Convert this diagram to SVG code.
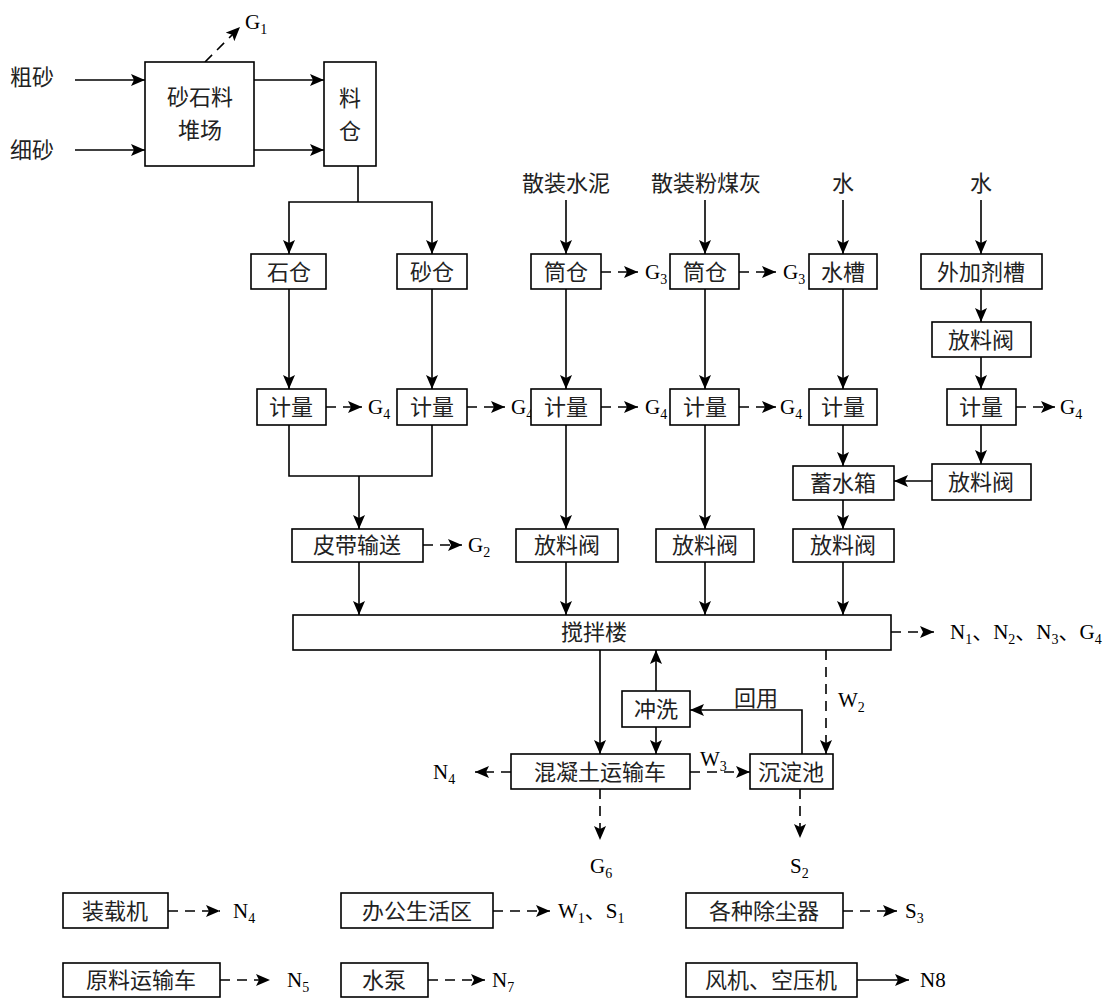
<svg xmlns="http://www.w3.org/2000/svg" width="1117" height="998" viewBox="0 0 1117 998">
<style>
.bx{fill:#fff;stroke:#000;stroke-width:1.6}
.ln{fill:none;stroke:#000;stroke-width:1.6}
.ar{marker-end:url(#ah)}
.ds{stroke-dasharray:10,7}
.cn{font-family:"Noto Sans CJK SC",sans-serif;font-size:22px;fill:#222;text-anchor:middle}
.cl{font-family:"Noto Sans CJK SC",sans-serif;font-size:22px;fill:#222}
.lt{font-family:"Liberation Serif","Noto Sans CJK SC",serif;font-size:21px;fill:#000}
.sb{font-size:14px}
</style>
<defs>
<marker id="ah" viewBox="0 0 14 12" refX="14" refY="6" markerWidth="14" markerHeight="12" orient="auto" markerUnits="userSpaceOnUse"><path d="M0,0 L14,6 L0,12 L3,6 z" fill="#000"/></marker>
</defs>
<rect width="1117" height="998" fill="#fff"/>

<g id="connectors">
<line class="ln ar" x1="75" y1="80" x2="145" y2="80"/>
<line class="ln ar" x1="75" y1="150" x2="145" y2="150"/>
<line class="ln ar ds" x1="205" y1="62" x2="240" y2="27"/>
<line class="ln ar" x1="254" y1="80" x2="324" y2="80"/>
<line class="ln ar" x1="254" y1="150" x2="324" y2="150"/>
<polyline class="ln" points="358,166 358,202"/>
<polyline class="ln ar" points="358,202 289,202 289,254"/>
<polyline class="ln ar" points="358,202 432,202 432,254"/>
<line class="ln ar" x1="566" y1="200" x2="566" y2="254"/>
<line class="ln ar" x1="705" y1="200" x2="705" y2="254"/>
<line class="ln ar" x1="843" y1="200" x2="843" y2="254"/>
<line class="ln ar" x1="981" y1="200" x2="981" y2="254"/>
<line class="ln ar ds" x1="601" y1="272" x2="638" y2="272"/>
<line class="ln ar ds" x1="739" y1="272" x2="776" y2="272"/>
<line class="ln ar" x1="289" y1="289" x2="289" y2="389"/>
<line class="ln ar" x1="432" y1="289" x2="432" y2="389"/>
<line class="ln ar" x1="566" y1="289" x2="566" y2="389"/>
<line class="ln ar" x1="705" y1="289" x2="705" y2="389"/>
<line class="ln ar" x1="843" y1="289" x2="843" y2="389"/>
<line class="ln ar" x1="981" y1="289" x2="981" y2="322"/>
<line class="ln ar" x1="981" y1="357" x2="981" y2="389"/>
<line class="ln ar ds" x1="326" y1="407" x2="362" y2="407"/>
<line class="ln ar ds" x1="467" y1="407" x2="505" y2="407"/>
<line class="ln ar ds" x1="601" y1="407" x2="638" y2="407"/>
<line class="ln ar ds" x1="739" y1="407" x2="776" y2="407"/>
<line class="ln ar ds" x1="1016" y1="407" x2="1055" y2="407"/>
<polyline class="ln" points="289,425 289,476 432,476 432,425"/>
<line class="ln ar" x1="359" y1="476" x2="359" y2="529"/>
<line class="ln ar" x1="566" y1="425" x2="566" y2="529"/>
<line class="ln ar" x1="705" y1="425" x2="705" y2="529"/>
<line class="ln ar" x1="843" y1="425" x2="843" y2="466"/>
<line class="ln ar" x1="981" y1="425" x2="981" y2="464"/>
<line class="ln ar" x1="932" y1="481" x2="894" y2="481"/>
<line class="ln ar" x1="843" y1="500" x2="843" y2="529"/>
<line class="ln ar ds" x1="423" y1="545" x2="462" y2="545"/>
<line class="ln ar" x1="359" y1="562" x2="359" y2="615"/>
<line class="ln ar" x1="566" y1="562" x2="566" y2="615"/>
<line class="ln ar" x1="705" y1="562" x2="705" y2="615"/>
<line class="ln ar" x1="843" y1="562" x2="843" y2="615"/>
<line class="ln ar ds" x1="891" y1="632" x2="934" y2="632"/>
<line class="ln ar" x1="600" y1="650" x2="600" y2="754"/>
<line class="ln ar" x1="656" y1="691" x2="656" y2="650"/>
<line class="ln ar" x1="656" y1="727" x2="656" y2="754"/>
<polyline class="ln ar" points="802,754 802,710 690,710"/>
<line class="ln ar ds" x1="826" y1="650" x2="826" y2="754"/>
<line class="ln ar ds" x1="690" y1="772" x2="750" y2="772"/>
<line class="ln ar ds" x1="511" y1="772" x2="475" y2="772"/>
<line class="ln ar ds" x1="600" y1="789" x2="600" y2="840"/>
<line class="ln ar ds" x1="800" y1="789" x2="800" y2="838"/>
<line class="ln ar ds" x1="168" y1="911" x2="220" y2="911"/>
<line class="ln ar ds" x1="493" y1="911" x2="550" y2="911"/>
<line class="ln ar ds" x1="843" y1="911" x2="897" y2="911"/>
<line class="ln ar ds" x1="220" y1="980" x2="270" y2="980"/>
<line class="ln ar ds" x1="428" y1="980" x2="485" y2="980"/>
<line class="ln ar" x1="857" y1="980" x2="909" y2="980"/>
</g>

<g id="labels">
<text class="cl" x="10" y="85">粗砂</text>
<text class="cl" x="10" y="158">细砂</text>
<text class="lt" x="245" y="29">G<tspan class="sb" dy="5">1</tspan></text>
<text class="cn" x="566" y="191">散装水泥</text>
<text class="cn" x="706" y="191">散装粉煤灰</text>
<text class="cn" x="843" y="191">水</text>
<text class="cn" x="981" y="191">水</text>
<text class="lt" x="645" y="279">G<tspan class="sb" dy="5">3</tspan></text>
<text class="lt" x="783" y="279">G<tspan class="sb" dy="5">3</tspan></text>
<text class="lt" x="368" y="414">G<tspan class="sb" dy="5">4</tspan></text>
<text class="lt" x="511" y="414">G<tspan class="sb" dy="5">4</tspan></text>
<text class="lt" x="645" y="414">G<tspan class="sb" dy="5">4</tspan></text>
<text class="lt" x="780" y="414">G<tspan class="sb" dy="5">4</tspan></text>
<text class="lt" x="1060" y="414">G<tspan class="sb" dy="5">4</tspan></text>
<text class="lt" x="468" y="552">G<tspan class="sb" dy="5">2</tspan></text>
<text class="lt" x="950" y="639">N<tspan class="sb" dy="5">1</tspan><tspan dy="-5">、N</tspan><tspan class="sb" dy="5">2</tspan><tspan dy="-5">、N</tspan><tspan class="sb" dy="5">3</tspan><tspan dy="-5">、G</tspan><tspan class="sb" dy="5">4</tspan></text>
<text class="cn" x="756" y="706">回用</text>
<text class="lt" x="838" y="707">W<tspan class="sb" dy="5">2</tspan></text>
<text class="lt" x="700" y="766">W<tspan class="sb" dy="5">3</tspan></text>
<text class="lt" x="433" y="779">N<tspan class="sb" dy="5">4</tspan></text>
<text class="lt" x="590" y="873">G<tspan class="sb" dy="5">6</tspan></text>
<text class="lt" x="790" y="873">S<tspan class="sb" dy="5">2</tspan></text>
<text class="lt" x="233" y="918">N<tspan class="sb" dy="5">4</tspan></text>
<text class="lt" x="558" y="918">W<tspan class="sb" dy="5">1</tspan><tspan dy="-5">、S</tspan><tspan class="sb" dy="5">1</tspan></text>
<text class="lt" x="905" y="918">S<tspan class="sb" dy="5">3</tspan></text>
<text class="lt" x="287" y="987">N<tspan class="sb" dy="5">5</tspan></text>
<text class="lt" x="492" y="987">N<tspan class="sb" dy="5">7</tspan></text>
<text class="lt" x="920" y="987">N8</text>
</g>

<g id="n-yard"><rect class="bx" x="145" y="62" width="109" height="104"/><text class="cn" x="200" y="105">砂石料</text><text class="cn" x="200" y="138">堆场</text></g>
<g id="n-bin"><rect class="bx" x="324" y="62" width="52" height="104"/><text class="cn" x="350" y="106">料</text><text class="cn" x="350" y="139">仓</text></g>
<g id="n-stone"><rect class="bx" x="251" y="254" width="75" height="35"/><text class="cn" x="289" y="280">石仓</text></g>
<g id="n-sand"><rect class="bx" x="397" y="254" width="70" height="35"/><text class="cn" x="432" y="280">砂仓</text></g>
<g id="n-silo1"><rect class="bx" x="531" y="254" width="70" height="35"/><text class="cn" x="566" y="280">筒仓</text></g>
<g id="n-silo2"><rect class="bx" x="670" y="254" width="69" height="35"/><text class="cn" x="705" y="280">筒仓</text></g>
<g id="n-tank"><rect class="bx" x="809" y="254" width="68" height="35"/><text class="cn" x="843" y="280">水槽</text></g>
<g id="n-additive"><rect class="bx" x="921" y="254" width="121" height="35"/><text class="cn" x="981" y="280">外加剂槽</text></g>
<g id="n-valve-a1"><rect class="bx" x="932" y="322" width="99" height="35"/><text class="cn" x="981" y="348">放料阀</text></g>
<g id="n-meter1"><rect class="bx" x="257" y="389" width="69" height="36"/><text class="cn" x="291" y="415">计量</text></g>
<g id="n-meter2"><rect class="bx" x="397" y="389" width="70" height="36"/><text class="cn" x="432" y="415">计量</text></g>
<g id="n-meter3"><rect class="bx" x="531" y="389" width="70" height="36"/><text class="cn" x="566" y="415">计量</text></g>
<g id="n-meter4"><rect class="bx" x="670" y="389" width="69" height="36"/><text class="cn" x="705" y="415">计量</text></g>
<g id="n-meter5"><rect class="bx" x="809" y="389" width="68" height="36"/><text class="cn" x="843" y="415">计量</text></g>
<g id="n-meter6"><rect class="bx" x="947" y="389" width="69" height="36"/><text class="cn" x="981" y="415">计量</text></g>
<g id="n-reservoir"><rect class="bx" x="793" y="466" width="101" height="34"/><text class="cn" x="843" y="491">蓄水箱</text></g>
<g id="n-valve-a2"><rect class="bx" x="932" y="464" width="99" height="36"/><text class="cn" x="981" y="490">放料阀</text></g>
<g id="n-belt"><rect class="bx" x="292" y="529" width="131" height="33"/><text class="cn" x="357" y="553">皮带输送</text></g>
<g id="n-valve1"><rect class="bx" x="516" y="529" width="102" height="33"/><text class="cn" x="567" y="553">放料阀</text></g>
<g id="n-valve2"><rect class="bx" x="656" y="529" width="98" height="33"/><text class="cn" x="705" y="553">放料阀</text></g>
<g id="n-valve3"><rect class="bx" x="793" y="529" width="101" height="33"/><text class="cn" x="843" y="553">放料阀</text></g>
<g id="n-mixer"><rect class="bx" x="293" y="615" width="598" height="35"/><text class="cn" x="594" y="640">搅拌楼</text></g>
<g id="n-wash"><rect class="bx" x="622" y="691" width="68" height="36"/><text class="cn" x="656" y="717">冲洗</text></g>
<g id="n-truck"><rect class="bx" x="511" y="754" width="179" height="35"/><text class="cn" x="600" y="780">混凝土运输车</text></g>
<g id="n-settle"><rect class="bx" x="750" y="754" width="83" height="35"/><text class="cn" x="791" y="780">沉淀池</text></g>
<g id="n-loader"><rect class="bx" x="63" y="893" width="105" height="35"/><text class="cn" x="115" y="919">装载机</text></g>
<g id="n-office"><rect class="bx" x="341" y="893" width="152" height="35"/><text class="cn" x="417" y="919">办公生活区</text></g>
<g id="n-dust"><rect class="bx" x="686" y="893" width="157" height="35"/><text class="cn" x="764" y="919">各种除尘器</text></g>
<g id="n-rawtruck"><rect class="bx" x="63" y="963" width="157" height="34"/><text class="cn" x="141" y="988">原料运输车</text></g>
<g id="n-pump"><rect class="bx" x="341" y="963" width="87" height="34"/><text class="cn" x="384" y="988">水泵</text></g>
<g id="n-fan"><rect class="bx" x="686" y="963" width="171" height="34"/><text class="cn" x="771" y="988">风机、空压机</text></g>
</svg>
